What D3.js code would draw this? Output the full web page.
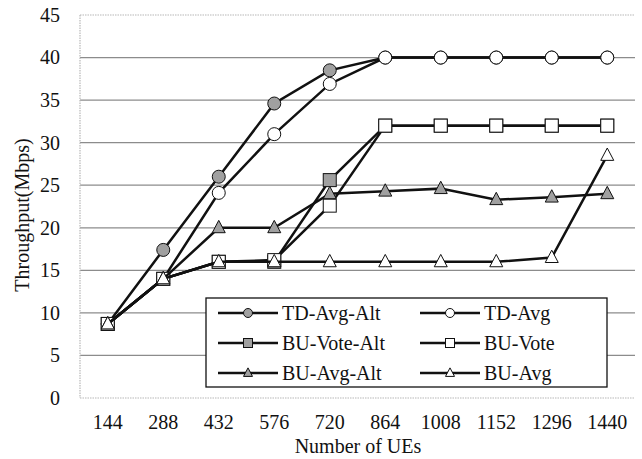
<!DOCTYPE html>
<html>
<head>
<meta charset="utf-8">
<script src="https://cdn.jsdelivr.net/npm/d3@7"></script>
</head>
<body style="margin:0;background:#fff">
<svg id="chart" width="642" height="459" style="font-family: 'Liberation Serif'"></svg>
<script>
// categories (number of UEs)
const ues = ['144', '288', '432', '576', '720', '864', '1008', '1152', '1296', '1440']
const yTicks = [0, 5, 10, 15, 20, 25, 30, 35, 40, 45]

// series values (Mbps)
const tdAvgAlt = [8.7, 17.4, 26.0, 34.6, 38.5, 40, 40, 40, 40, 40]
const tdAvg = [8.7, 14.0, 24.1, 31.0, 36.9, 40, 40, 40, 40, 40]
const buVoteAlt = [8.7, 14.0, 16.0, 16.0, 25.6, 32, 32, 32, 32, 32]
const buVote = [8.7, 14.0, 16.0, 16.2, 22.6, 32, 32, 32, 32, 32]
const buAvgAlt = [8.7, 14.0, 20.0, 20.0, 24.0, 24.3, 24.6, 23.3, 23.6, 24.0]
const buAvg = [8.7, 14.0, 16.0, 16.0, 16.0, 16.0, 16.0, 16.0, 16.5, 28.5]

const series = [
  { name: 'TD-Avg-Alt', values: tdAvgAlt, shape: 'circle', fill: '#a0a0a0' },
  { name: 'TD-Avg', values: tdAvg, shape: 'circle', fill: '#fff' },
  { name: 'BU-Vote-Alt', values: buVoteAlt, shape: 'square', fill: '#a0a0a0' },
  { name: 'BU-Vote', values: buVote, shape: 'square', fill: '#fff' },
  { name: 'BU-Avg-Alt', values: buAvgAlt, shape: 'triangle', fill: '#a0a0a0' },
  { name: 'BU-Avg', values: buAvg, shape: 'triangle', fill: '#fff' }
]

/****************************************************************
    Layout
/****************************************************************/
const plot = { left: 80, right: 635, top: 15, bottom: 398 }
const svg = d3.select('#chart')

const x = d3.scaleBand().domain(ues).range([plot.left, plot.right])
const y = d3.scaleLinear().domain([0, 45]).range([plot.bottom, plot.top])

// gridlines
svg.append('g')
  .selectAll('line')
  .data(yTicks.filter(d => d > 0 && d < 45))
  .join('line')
  .attr('x1', plot.left)
  .attr('x2', plot.right)
  .attr('y1', d => y(d))
  .attr('y2', d => y(d))
  .attr('stroke', '#8c8c8c')
  .attr('stroke-width', 1.3)

// dotted frame lines (top, left, bottom)
const frame = svg.append('g')
  .attr('stroke', '#b8b8b8')
  .attr('stroke-width', 1.2)
  .attr('stroke-dasharray', '1.5,1')
frame.append('line').attr('x1', plot.left).attr('x2', plot.right).attr('y1', y(45)).attr('y2', y(45))
frame.append('line').attr('x1', plot.left).attr('x2', plot.left).attr('y1', y(45)).attr('y2', y(0))
frame.append('line').attr('x1', plot.left).attr('x2', plot.right).attr('y1', y(0)).attr('y2', y(0))

function styleText(sel) {
  sel.style('font-family', '"Liberation Serif"')
    .style('font-size', '20px')
    .attr('fill', '#111')
}

// y axis labels
const yAxis = svg.append('g')
  .attr('transform', `translate(${plot.left},0)`)
  .call(d3.axisLeft(y).tickValues(yTicks).tickSize(0).tickPadding(20))
yAxis.attr('font-family', null).attr('font-size', null)
yAxis.select('.domain').remove()
styleText(yAxis.selectAll('text'))

// x axis labels
const xAxis = svg.append('g')
  .attr('transform', `translate(0,${plot.bottom})`)
  .call(d3.axisBottom(x).tickSize(0).tickPadding(17))
xAxis.attr('font-family', null).attr('font-size', null)
xAxis.select('.domain').remove()
styleText(xAxis.selectAll('text'))

// axis titles
svg.append('text')
  .attr('x', 358)
  .attr('y', 453)
  .attr('text-anchor', 'middle')
  .text('Number of UEs')
  .call(styleText)

svg.append('text')
  .attr('transform', 'translate(29,215) rotate(-90)')
  .attr('text-anchor', 'middle')
  .text('Throughput(Mbps)')
  .call(styleText)

/****************************************************************
    Marker drawing
/****************************************************************/
function marker(g, shape, cx, cy, size, fill) {
  if (shape === 'circle') {
    g.append('circle').attr('cx', cx).attr('cy', cy).attr('r', size / 2)
      .attr('fill', fill).attr('stroke', '#111').attr('stroke-width', 1)
  } else if (shape === 'square') {
    g.append('rect').attr('x', cx - size / 2).attr('y', cy - size / 2)
      .attr('width', size).attr('height', size)
      .attr('fill', fill).attr('stroke', '#111').attr('stroke-width', 1)
  } else {
    const h = size * 0.95
    g.append('path')
      .attr('d', `M${cx},${cy - h * 0.6}L${cx + size / 2},${cy + h * 0.4}L${cx - size / 2},${cy + h * 0.4}Z`)
      .attr('fill', fill).attr('stroke', '#111').attr('stroke-width', 1)
  }
}

const line = d3.line()
  .x((d, i) => x(ues[i]) + x.bandwidth() / 2)
  .y(d => y(d))

series.forEach(s => {
  const g = svg.append('g')
  g.append('path')
    .attr('d', line(s.values))
    .attr('fill', 'none')
    .attr('stroke', '#111')
    .attr('stroke-width', 2.5)
  s.values.forEach((v, i) => {
    marker(g, s.shape, x(ues[i]) + x.bandwidth() / 2, y(v), 13, s.fill)
  })
})

/****************************************************************
    Legend
/****************************************************************/
const legend = svg.append('g')
legend.append('rect')
  .attr('x', 206).attr('y', 298)
  .attr('width', 401).attr('height', 89)
  .attr('fill', '#fff').attr('stroke', '#111').attr('stroke-width', 1.3)

series.forEach((s, i) => {
  const col = i % 2
  const row = Math.floor(i / 2)
  const lx = col === 0 ? 218 : 420
  const ly = 313 + row * 30
  legend.append('line')
    .attr('x1', lx).attr('x2', lx + 60)
    .attr('y1', ly).attr('y2', ly)
    .attr('stroke', '#111').attr('stroke-width', 2.5)
  marker(legend, s.shape, lx + 30, ly, 9, s.fill)
  legend.append('text')
    .attr('x', lx + 64)
    .attr('y', ly + 7)
    .text(s.name)
    .call(styleText)
})
</script>
</body>
</html>
